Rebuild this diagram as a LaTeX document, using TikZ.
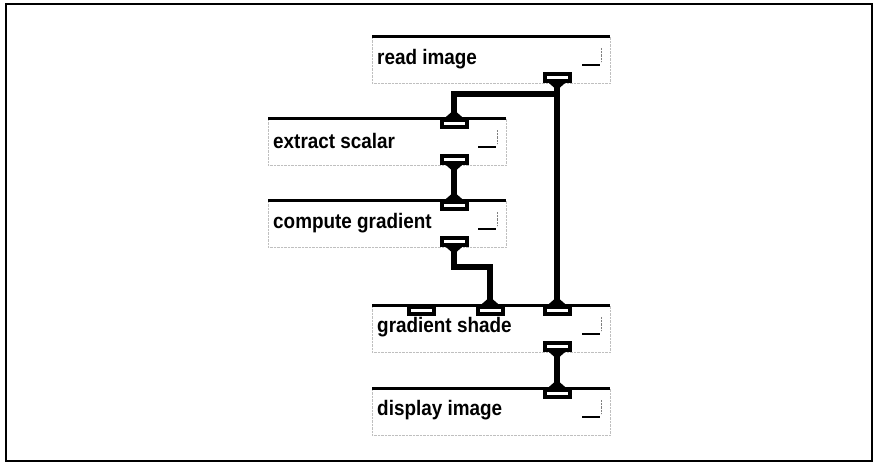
\documentclass[tikz,border=0pt]{standalone}
\usepackage{fontspec}
\setmainfont{Liberation Sans}[FakeStretch=0.9]
\begin{document}
\begin{tikzpicture}[x=1pt, y=-1pt,
    modbox/.style={draw=black!25, densely dotted, anchor=north west, inner sep=0pt,
        minimum width=238pt, minimum height=47pt},
    modtext/.style={anchor=west, inner sep=0pt, font=\bfseries\fontsize{21}{23}\selectfont},
    topline/.style={line width=3pt},
    icon/.style={line width=2pt},
    port/.style={draw=black, fill=white, line width=4pt, outer sep=0pt, inner sep=0pt,
        minimum width=25pt, minimum height=7pt},
    wire/.style={line width=6pt}]

    % page size and frame
    \useasboundingbox (0,0) rectangle (877,463);
    \draw[line width=1.5pt] (6,4) rectangle (872,461);

    % modules
    \node[modbox] (rd) at (372,36) {};
    \node[modbox] (ex) at (268,118) {};
    \node[modbox] (cg) at (268,200) {};
    \node[modbox] (gs) at (372,305) {};
    \node[modbox] (dp) at (372,388) {};

    % module titles
    \node[modtext] (rd-lbl) at (377,59) {read image};
    \node[modtext] (ex-lbl) at (273,141) {extract scalar};
    \node[modtext] (cg-lbl) at (273,223) {compute gradient};
    \node[modtext] (gs-lbl) at (377,327) {gradient shade};
    \node[modtext] (dp-lbl) at (377,410) {display image};

    % top bars and small icons
    \foreach \m in {rd,ex,cg,gs,dp} {
        \draw[topline] (\m.north west) -- (\m.north east);
        \draw[icon] ([xshift=-28pt,yshift=-29pt]\m.north east) -- ++(18,0);
        \draw[black!50, densely dotted] ([xshift=-9pt,yshift=-12pt]\m.north east) -- ++(0,14);
    }

    % input ports
    \node[port] (ex-in) at (454,123) {};
    \node[port] (cg-in) at (454,205) {};
    \node[port] (gs-in0) at (421,310) {};
    \node[port] (gs-in1) at (490,310) {};
    \node[port] (gs-in2) at (557,310) {};
    \node[port] (dp-in) at (557,393) {};

    % output ports
    \node[port] (rd-out) at (557,77) {};
    \node[port] (ex-out) at (454,159) {};
    \node[port] (cg-out) at (454,241) {};
    \node[port] (gs-out) at (557,346) {};

    % flares where wires meet ports
    \foreach \p in {ex-in,cg-in,gs-in1,gs-in2,dp-in}
        \fill ([xshift=-11pt]\p.north) -- ([xshift=-3pt,yshift=7pt]\p.north)
            -- ([xshift=3pt,yshift=7pt]\p.north) -- ([xshift=11pt]\p.north) -- cycle;
    \foreach \p in {rd-out,ex-out,cg-out,gs-out}
        \fill ([xshift=-11pt]\p.south) -- ([xshift=-3pt,yshift=-7pt]\p.south)
            -- ([xshift=3pt,yshift=-7pt]\p.south) -- ([xshift=11pt]\p.south) -- cycle;

    % connections
    \coordinate (split) at (557,94);
    \draw[wire] (rd-out.south) -- (gs-in2.north);
    \draw[wire] (split) -| (ex-in.north);
    \draw[wire] (ex-out.south) -- (cg-in.north);
    \draw[wire] (cg-out.south) -- ++(0,22) -| (gs-in1.north);
    \draw[wire] (gs-out.south) -- (dp-in.north);

\end{tikzpicture}
\end{document}
